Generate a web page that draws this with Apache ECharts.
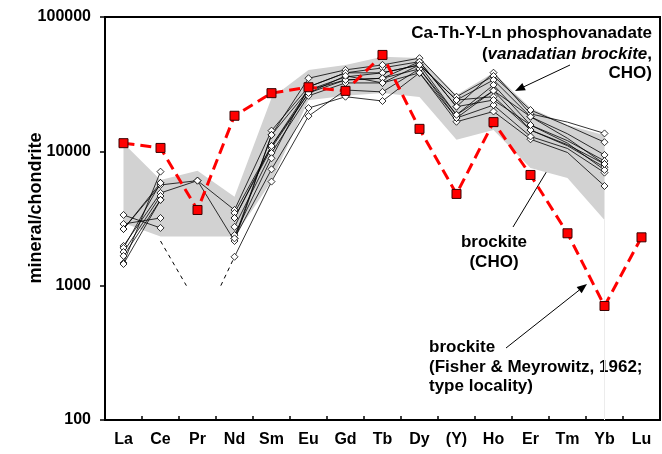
<!DOCTYPE html>
<html>
<head>
<meta charset="utf-8">
<script src="https://cdn.jsdelivr.net/npm/echarts@6/dist/echarts.min.js"></script>
<style>
  html, body { margin: 0; padding: 0; background: #fff; }
  #chartDiv { width: 662px; height: 454px; }
</style>
</head>
<body>
<div id="chartDiv"></div>
<script>
var cats = ["La", "Ce", "Pr", "Nd", "Sm", "Eu", "Gd", "Tb", "Dy", "(Y)", "Ho", "Er", "Tm", "Yb", "Lu"];
var yTicks = [100, 1000, 10000, 100000];

// brockite, type locality (Fisher & Meyrowitz, 1962)
var typeLocality = [11500, 10600, 3660, 18400, 27100, 30000, 28200, 52200, 14700, 4820, 16500, 6670, 2455, 706, 2290];

// grey field: brockite (CHO)
var bandUpper = [11500, 6120, 7180, 4600, 25000, 40400, 44000, 50500, 49500, 26300, 38400, 21000, 15700, 13200, null];
var bandLower = [2930, 2320, 2320, 2320, 6000, 24000, 25900, 27200, 25400, 12200, 14400, 7500, 6340, 3080, null];

// Ca-Th-Y-Ln phosphovanadate analyses (Tm read off the line bends, no marker)
var cho1 = [3360, 2690, null, 2250, 7350, 21000, 25500, 23700, 38400, 16600, 19800, 12300, 9800, 5520, null];
var cho2 = [2880, 3190, null, 1640, 5950, 18300, 28600, 27700, 41100, 17700, 22100, 12900, 10500, 6940, null];
var cho3 = [2640, 5620, 6050, 3660, 14260, 30200, 38400, 41800, 46500, 21500, 38500, 19000, 16500, 13600, null];
var cho4 = [1975, 4900, 6050, 2150, 13250, 35000, 40400, 44000, 49400, 25500, 36400, 20300, 15500, 11700, null];
var cho5 = [1910, 5820, null, 3480, 10970, 28600, 35800, 38400, 44000, 24100, 34000, 18100, 13500, 9400, null];
var cho6 = [1780, 4650, null, 3190, 10600, 27200, 34000, 35000, 41100, 18700, 31200, 15700, 12000, 8480, null];
var cho7 = [1665, 4350, null, 2740, 9730, 25900, 32300, 32300, 38400, 17700, 28300, 14400, 11200, 8050, null];
var cho8 = [1475, 7060, null, 2380, 8880, 30200, 38400, 38400, 44000, 24100, 25500, 14400, 11000, 7620, null];
var cho9 = [1450, 4350, null, 2250, 13250, 28600, 34000, 35000, 46500, 21500, 24100, 15700, 11500, 7270, null];
var cho10 = [2640, 5820, null, 3190, 10970, 27200, 36500, 32300, 44000, 18700, 28300, 18100, 12500, 8050, null];

// dashed Pr drop-outs below 1000 (x as category position)
var prDropLeft = [[1, 2150], [1.70, 1000]];
var prDropRight = [[2.63, 1000], [3, 1640]];

var FONT = '"Liberation Sans", Arial, sans-serif';
var myChart = echarts.init(document.getElementById("chartDiv"));

function choSeries(arr) {
  var data = arr.map(function (v, i) {
    if (v == null) return null;
    if (cats[i] === "Tm") return { value: v, symbol: "none" };
    return v;
  });
  return {
    type: "line",
    data: data,
    z: 3,
    symbol: "diamond",
    symbolSize: 7,
    itemStyle: { color: "#fff", borderColor: "#000", borderWidth: 0.8 },
    lineStyle: { color: "#000", width: 0.8 },
    connectNulls: false,
    silent: true
  };
}

function arrow(x1, y1, x2, y2) {
  var a = Math.atan2(y2 - y1, x2 - x1);
  var L = 10, W = 4;
  var bx = x2 - L * Math.cos(a), by = y2 - L * Math.sin(a);
  return [
    { type: "line", shape: { x1: x1, y1: y1, x2: bx, y2: by }, style: { stroke: "#000", lineWidth: 1 } },
    { type: "polygon", shape: { points: [[x2, y2], [bx + W * Math.sin(a), by - W * Math.cos(a)], [bx - W * Math.sin(a), by + W * Math.cos(a)]] }, style: { fill: "#000" } }
  ];
}

function label(x, y, txt, align) {
  return {
    type: "text",
    style: {
      x: x, y: y, text: txt, textAlign: align, textVerticalAlign: "middle",
      font: "bold 17px " + FONT, fill: "#000",
      rich: { i: { fontStyle: "italic", fontWeight: "bold", fontSize: 17, fontFamily: FONT } }
    }
  };
}

var series = [
  {
    type: "custom",
    data: [[0, 1000]],
    z: 1,
    silent: true,
    renderItem: function (params, api) {
      if (params.dataIndex !== 0) return;
      var pts = [];
      for (var i = 0; i < cats.length; i++) {
        if (bandUpper[i] != null) pts.push(api.coord([i, bandUpper[i]]));
      }
      for (var j = cats.length - 1; j >= 0; j--) {
        if (bandLower[j] != null) pts.push(api.coord([j, bandLower[j]]));
      }
      var yb = cats.indexOf("Yb");
      var p1 = api.coord([yb, yTicks[0]]);
      var p2 = api.coord([yb, bandLower[yb]]);
      return {
        type: "group",
        children: [
          { type: "polygon", shape: { points: pts }, style: { fill: "#d2d2d2" } },
          { type: "line", shape: { x1: p1[0], y1: p1[1], x2: p2[0], y2: p2[1] }, style: { stroke: "#ececec", lineWidth: 1 } }
        ]
      };
    }
  }
];

[cho1, cho2, cho3, cho4, cho5, cho6, cho7, cho8, cho9, cho10].forEach(function (s) {
  series.push(choSeries(s));
});

[prDropLeft, prDropRight].forEach(function (d) {
  series.push({
    type: "line",
    xAxisIndex: 1,
    data: d,
    symbol: "none",
    z: 2,
    silent: true,
    lineStyle: { color: "#000", width: 1, type: [4, 4] }
  });
});

series.push({
  type: "line",
  data: typeLocality,
  z: 5,
  symbol: "rect",
  symbolSize: 9,
  itemStyle: { color: "#ff0000", borderColor: "#3a0000", borderWidth: 1 },
  lineStyle: { color: "#ff0000", width: 3, type: [11, 6] },
  silent: true
});

var graphics = []
  .concat(arrow(570, 65, 515, 91))
  .concat(arrow(513, 227, 553, 161))
  .concat(arrow(506, 348, 587, 284))
  .concat([
    label(652, 33, "Ca-Th-Y-Ln phosphovanadate", "right"),
    label(652, 54, "({i|vanadatian brockite},", "right"),
    label(652, 73, "CHO)", "right"),
    label(494, 242, "brockite", "center"),
    label(494, 262, "(CHO)", "center"),
    label(429, 347, "brockite", "left"),
    label(429, 367, "(Fisher & Meyrowitz, 1962;", "left"),
    label(429, 386, "type locality)", "left"),
    {
      type: "text",
      x: 36,
      y: 208,
      rotation: Math.PI / 2,
      style: {
        text: "mineral/chondrite", textAlign: "center", textVerticalAlign: "middle",
        font: "bold 18px " + FONT, fill: "#000"
      }
    }
  ]);

var option = {
  animation: false,
  backgroundColor: "#fff",
  grid: { left: 105, right: 2, top: 17, bottom: 34, show: true, borderColor: "#000", borderWidth: 2, backgroundColor: "transparent" },
  xAxis: [
    {
      type: "category",
      data: cats,
      boundaryGap: true,
      axisLine: { onZero: false, lineStyle: { color: "#000", width: 2 } },
      axisTick: { show: true, inside: true, length: 4, lineStyle: { color: "#000", width: 1.5 } },
      axisLabel: { color: "#000", fontWeight: "bold", fontSize: 16, fontFamily: FONT, margin: 12, interval: 0 },
      splitLine: { show: false }
    },
    { type: "value", min: -0.5, max: 14.5, show: false }
  ],
  yAxis: {
    type: "log",
    logBase: 10,
    min: yTicks[0],
    max: yTicks[yTicks.length - 1],
    axisLine: { show: true, onZero: false, lineStyle: { color: "#000", width: 2 } },
    axisTick: { show: true, inside: false, length: 5, lineStyle: { color: "#000", width: 1.5 } },
    minorTick: { show: false },
    axisLabel: {
      color: "#000", fontWeight: "bold", fontSize: 16, fontFamily: FONT, margin: 14,
      formatter: function (v) { return String(Math.round(v)); }
    },
    splitLine: { show: false }
  },
  graphic: graphics,
  series: series
};

myChart.setOption(option);
</script>
</body>
</html>
